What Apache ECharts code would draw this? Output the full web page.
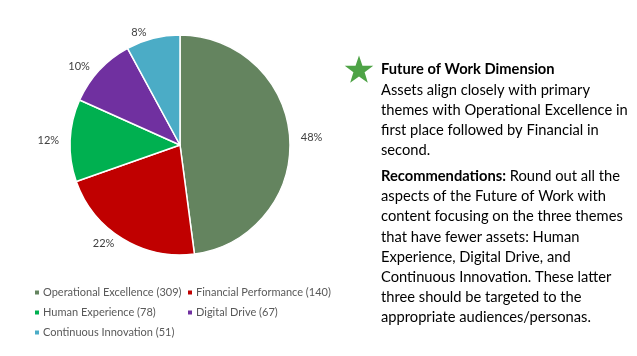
<!DOCTYPE html>
<html><head><meta charset="utf-8">
<script src="https://cdn.jsdelivr.net/npm/echarts@6/dist/echarts.min.js"></script>
<style>html,body{margin:0;padding:0;background:#fff}#c{width:637px;height:356px}</style>
</head><body><div id="c"></div>
<script>
const categories = ['Operational Excellence', 'Financial Performance', 'Human Experience', 'Digital Drive', 'Continuous Innovation'];
const values = [309, 140, 78, 67, 51];
const colors = ['#64845F', '#C00000', '#00B050', '#7030A0', '#4BACC6'];
const titleText = 'Future of Work Dimension';
const bodyLines = ['Assets align closely with primary', 'themes with Operational Excellence in', 'first place followed by Financial in', 'second.'];
const recLines = ['{b|Recommendations:} Round out all the', 'aspects of the Future of Work with', 'content focusing on the three themes', 'that have fewer assets: Human', 'Experience, Digital Drive, and', 'Continuous Innovation. These latter', 'three should be targeted to the', 'appropriate audiences/personas.'];

const FONT = 'Lato, "Open Sans", sans-serif';
const FS = 14.7;
const names = categories.map((c, i) => c + ' (' + values[i] + ')');
const chart = echarts.init(document.getElementById('c'));

function starPoints(cx, cy, R, r) {
  const pts = [];
  for (let i = 0; i < 10; i++) {
    const a = -Math.PI / 2 + i * Math.PI / 5;
    const rad = i % 2 === 0 ? R : r;
    pts.push([cx + rad * Math.cos(a), cy + rad * Math.sin(a)]);
  }
  return pts;
}

const graphics = [
  { type: 'polygon', shape: { points: starPoints(359, 70.5, 15, 5.9) }, style: { fill: '#4EA346' } },
  { type: 'text', left: 381, top: 62, style: { text: titleText, font: 'bold ' + FS + 'px ' + FONT, fill: '#000' } }
];
bodyLines.forEach((t, i) => graphics.push({ type: 'text', left: 381, top: 83 + i * 20, style: { text: t, font: FS + 'px ' + FONT, fill: '#000' } }));
recLines.forEach((t, i) => graphics.push({ type: 'text', left: 381, top: 169 + i * 20.1, style: { text: t, font: FS + 'px ' + FONT, fill: '#000', rich: { b: { font: 'bold ' + FS + 'px ' + FONT, fill: '#000' } } } }));

const legendCommon = {
  orient: 'vertical', icon: 'rect', itemWidth: 6, itemHeight: 6, itemGap: 9,
  textStyle: { color: '#595959', fontSize: 11, fontFamily: FONT, padding: [0, 0, 0, -2] },
  selectedMode: false
};

chart.setOption({
  animation: false,
  color: colors,
  legend: [
    Object.assign({ left: 28, top: 282, data: [names[0], names[2], names[4]] }, legendCommon),
    Object.assign({ left: 181, top: 282, data: [names[1], names[3]] }, legendCommon)
  ],
  graphic: graphics,
  series: [{
    type: 'pie',
    center: [180, 145],
    radius: 110,
    startAngle: 90,
    clockwise: true,
    data: names.map((n, i) => ({ name: n, value: values[i] })),
    itemStyle: { borderColor: '#fff', borderWidth: 1.5 },
    label: {
      show: true, position: 'outside',
      formatter: p => Math.round(p.percent) + '%',
      color: '#404040', fontSize: 11, fontFamily: FONT
    },
    labelLine: { show: false, length: 6, length2: 0 }
  }]
});
</script></body></html>
